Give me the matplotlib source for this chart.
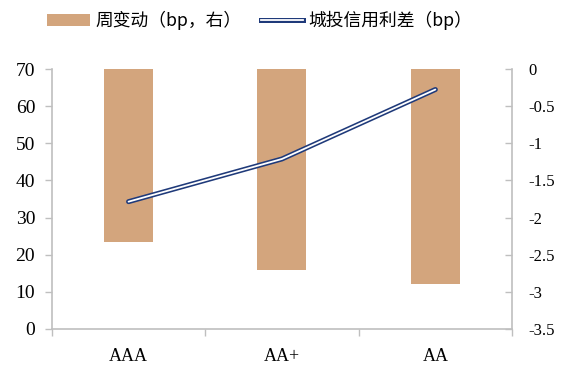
import matplotlib
matplotlib.use("Agg")
import matplotlib.pyplot as plt
from matplotlib.patches import Patch
from matplotlib.lines import Line2D
from matplotlib.legend_handler import HandlerTuple

categories = ["AAA", "AA+", "AA"]
spread = [34.3, 45.8, 64.5]          # 城投信用利差 (bp), left axis
weekly_change = [-2.33, -2.70, -2.90]  # 周变动 (bp, 右), right axis
left_ticks = [0, 10, 20, 30, 40, 50, 60, 70]
right_ticks = [0, -0.5, -1, -1.5, -2, -2.5, -3, -3.5]
right_labels = ["0", "-0.5", "-1", "-1.5", "-2", "-2.5", "-3", "-3.5"]

bar_color = "#D3A57D"
line_color = "#1F3A7A"
spine_color = "#BFBFBF"
serif = ["Liberation Serif", "DejaVu Serif"]
cjk = ["Noto Sans CJK SC", "DejaVu Sans"]

fig = plt.figure(figsize=(5.76, 3.75), dpi=100)
ax = fig.add_axes([0.090, 0.1227, 0.799, 0.693])
ax2 = ax.twinx()

x = list(range(len(categories)))
ax2.bar(x, weekly_change, width=0.32, color=bar_color, zorder=2)
ax2.set_ylim(-3.5, 0)
ax2.set_yticks(right_ticks)
ax2.set_yticklabels(right_labels, fontfamily=serif, fontsize=12)

ax.plot(x, spread, color=line_color, lw=3.6, solid_capstyle="round", zorder=3)
ax.plot(x, spread, color="white", lw=1.3, solid_capstyle="round", zorder=4)
ax.set_ylim(0, 70)
ax.set_yticks(left_ticks)
ax.set_yticklabels([str(t) for t in left_ticks], fontfamily=serif, fontsize=14)
ax.set_xlim(-0.5, 2.5)
ax.set_xticks(x)
ax.set_xticklabels(categories, fontfamily=serif, fontsize=13)
ax.set_xticks([-0.5, 0.5, 1.5, 2.5], minor=True)
ax.tick_params(axis="x", which="major", length=0, pad=14)
ax.tick_params(axis="x", which="minor", length=5, color=spine_color, width=1)
ax.tick_params(axis="y", length=5, color=spine_color, width=1, pad=7)
ax2.tick_params(axis="y", direction="in", length=5, color=spine_color, width=1, pad=12)

ax.set_zorder(ax2.get_zorder() + 1)
ax.patch.set_visible(False)

for a in (ax, ax2):
    a.spines["top"].set_visible(False)
    for s in ("left", "right", "bottom"):
        a.spines[s].set_color(spine_color)
        a.spines[s].set_linewidth(1.2)
ax.spines["right"].set_visible(False)
ax2.spines["left"].set_visible(False)
ax2.spines["bottom"].set_visible(False)

h_bar = Patch(facecolor=bar_color, edgecolor="none")
h_line = (Line2D([], [], color=line_color, lw=3.6), Line2D([], [], color="white", lw=1.3))
fig.legend([h_bar, h_line], ["周变动（bp，右）", "城投信用利差（bp）"],
           loc="center", bbox_to_anchor=(0.451, 0.945), ncol=2, frameon=False,
           prop={"family": cjk, "size": 12.8}, handlelength=2.4, handleheight=0.6,
           handletextpad=0.3, columnspacing=1.1,
           handler_map={tuple: HandlerTuple(ndivide=1)})

fig.savefig("out.png", dpi=100)
